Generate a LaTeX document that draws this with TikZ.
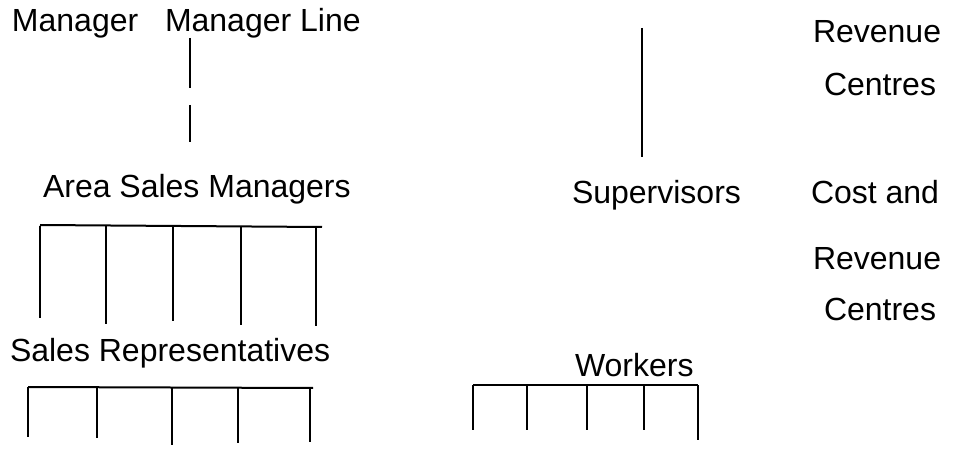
\documentclass[tikz,border=0pt]{standalone}
\usepackage{fontspec}
\setmainfont{Liberation Sans}
\begin{document}
\begin{tikzpicture}[x=1pt, y=-1pt, line width=2pt,
    lbl/.style={anchor=base west, inner sep=0pt, font=\fontsize{32}{38}\selectfont}]
    \useasboundingbox (0,0) rectangle (962,449);

    % Intestazioni in alto
    \node[lbl] (mgr) at (11,32) {Manager};
    \node[lbl] (mgrline) at (164,32) {Manager Line};
    \node[lbl] (rev1) at (812,43) {Revenue};
    \node[lbl] (cen1) at (823,96) {Centres};

    % Livello intermedio
    \node[lbl] (asm) at (42,198) {Area Sales Managers};
    \node[lbl] (sup) at (571,204) {Supervisors};
    \node[lbl] (cost) at (810,204) {Cost and};
    \node[lbl] (rev2) at (812,270) {Revenue};
    \node[lbl] (cen2) at (823,320) {Centres};

    % Livello basso
    \node[lbl] (rep) at (9,361) {Sales Representatives};
    \node[lbl] (wrk) at (574,377) {Workers};

    % Linea verticale (interrotta) sotto Manager Line
    \draw (190,38) -- (190,88);
    \draw (190,105) -- (190,142);
    % Linea verticale verso Supervisors
    \draw (642,28) -- (642,157);

    % Ramificazione Area Sales Managers
    \draw (40,225) -- (322,227);
    \foreach \x/\b in {40/318, 106/324, 173/321, 241/325, 316/326} {
        \draw (\x,226) -- (\x,\b);
    }

    % Ramificazione Sales Representatives
    \draw (28,387) -- (313,388);
    \foreach \x/\b in {28/437, 97/438, 172/445, 238/443, 310/442} {
        \draw (\x,387) -- (\x,\b);
    }

    % Ramificazione Workers
    \draw (473,385) -- (698,385);
    \foreach \x/\b in {473/430, 527/430, 587/430, 644/430, 698/440} {
        \draw (\x,385) -- (\x,\b);
    }
\end{tikzpicture}
\end{document}
